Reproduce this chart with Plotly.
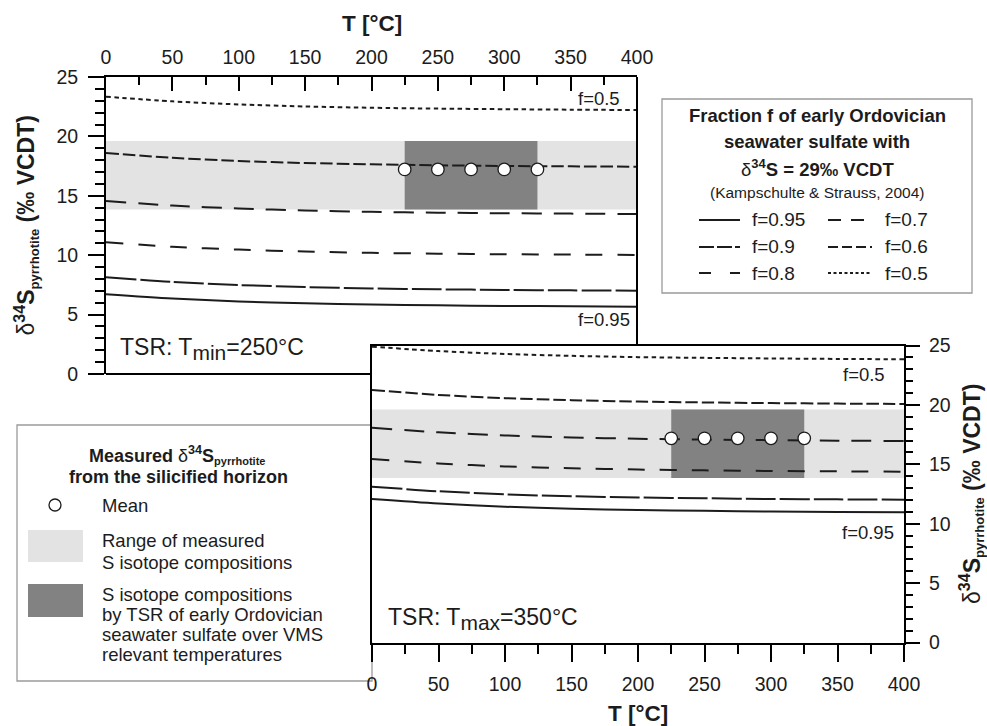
import plotly.graph_objects as go

# ---------------- data ----------------
T = [0, 50, 100, 150, 200, 250, 300, 350, 400]
fractions = ["f=0.95", "f=0.9", "f=0.8", "f=0.7", "f=0.6", "f=0.5"]

# TSR at Tmin = 250 °C  (upper-left panel)
tmin_f095 = [6.71, 6.35, 6.11, 5.95, 5.85, 5.78, 5.73, 5.70, 5.67]
tmin_f090 = [8.14, 7.75, 7.49, 7.32, 7.20, 7.13, 7.08, 7.04, 7.01]
tmin_f080 = [11.08, 10.71, 10.47, 10.31, 10.20, 10.13, 10.08, 10.05, 10.02]
tmin_f070 = [14.56, 14.18, 13.93, 13.76, 13.65, 13.58, 13.53, 13.50, 13.47]
tmin_f060 = [18.60, 18.20, 17.93, 17.76, 17.65, 17.57, 17.51, 17.48, 17.45]
tmin_f050 = [23.34, 22.95, 22.69, 22.52, 22.41, 22.34, 22.29, 22.25, 22.22]

# TSR at Tmax = 350 °C  (lower-right panel)
tmax_f095 = [12.08, 11.70, 11.43, 11.26, 11.15, 11.08, 11.02, 10.99, 10.96]
tmax_f090 = [13.12, 12.73, 12.47, 12.31, 12.21, 12.14, 12.08, 12.05, 12.02]
tmax_f080 = [15.44, 15.07, 14.82, 14.67, 14.56, 14.49, 14.44, 14.41, 14.38]
tmax_f070 = [18.08, 17.69, 17.43, 17.26, 17.15, 17.08, 17.03, 16.99, 16.96]
tmax_f060 = [21.25, 20.84, 20.57, 20.40, 20.28, 20.21, 20.15, 20.11, 20.08]
tmax_f050 = [24.90, 24.53, 24.29, 24.13, 24.02, 23.96, 23.91, 23.87, 23.84]

measured_range = [13.85, 19.62]   # range of measured d34S pyrrhotite
band_T = [0, 400]                 # full temperature span
vms_T = [225, 325]                # VMS relevant temperatures
mean_T = [225, 250, 275, 300, 325]
mean_tmin = [17.22, 17.22, 17.22, 17.22, 17.22]
mean_tmax = [17.19, 17.19, 17.19, 17.19, 17.19]

x_range = [0, 400]
y_range = [0, 25]
x_tick_step, x_minor_step = 50, 25
y_tick_step, y_minor_step = 5, 1

# ---------------- styles ----------------
W, H = 987, 726
FONT = "Liberation Sans, Arial, Helvetica, sans-serif"
INK = "#1c1c1c"
LIGHT = "#e3e3e3"
DARK = "#828282"
dash_of = {"f=0.95": "solid", "f=0.9": "30px,4px", "f=0.8": "17px,15px",
           "f=0.7": "20px,12px", "f=0.6": "12.5px,4px", "f=0.5": "4.5px,3.5px"}
legend_dash = {"f=0.95": "solid", "f=0.9": "15px,3px", "f=0.8": "12px,19px",
               "f=0.7": "13px,10px", "f=0.6": "10px,4px", "f=0.5": "3px,2.5px"}


def PX(x):
    return x / W


def PY(y):
    return 1 - y / H


top_box = (106, 637, 77, 374)      # left, right, top, bottom (px)
bot_box = (372, 904, 345.5, 642.5)

fig = go.Figure()

panels = [
    ("x", "y", [tmin_f095, tmin_f090, tmin_f080, tmin_f070, tmin_f060, tmin_f050], mean_tmin),
    ("x2", "y2", [tmax_f095, tmax_f090, tmax_f080, tmax_f070, tmax_f060, tmax_f050], mean_tmax),
]

for xa, ya, curves, means in panels:
    lo, hi = measured_range
    fig.add_trace(go.Scatter(
        x=[band_T[0], band_T[1], band_T[1], band_T[0], band_T[0]],
        y=[lo, lo, hi, hi, lo], fill="toself", fillcolor=LIGHT,
        mode="lines", line=dict(width=0), hoverinfo="skip", xaxis=xa, yaxis=ya))
    fig.add_trace(go.Scatter(
        x=[vms_T[0], vms_T[1], vms_T[1], vms_T[0], vms_T[0]],
        y=[lo, lo, hi, hi, lo], fill="toself", fillcolor=DARK,
        mode="lines", line=dict(width=0), hoverinfo="skip", xaxis=xa, yaxis=ya))
    for name, vals in zip(fractions, curves):
        fig.add_trace(go.Scatter(
            x=T, y=vals, mode="lines", name=name,
            line=dict(color=INK, width=2, dash=dash_of[name], shape="spline", smoothing=0.8),
            xaxis=xa, yaxis=ya))
    fig.add_trace(go.Scatter(
        x=mean_T, y=means, mode="markers", name="Mean",
        marker=dict(size=12.5, color="white", line=dict(color=INK, width=1.3)),
        xaxis=xa, yaxis=ya))

axis_common = dict(showgrid=False, zeroline=False, showline=True, linewidth=2,
                   linecolor="black", tickcolor="black", tickwidth=2,
                   tickfont=dict(size=19.5, color=INK, family=FONT), automargin=False,
                   fixedrange=True, tickmode="linear", tick0=0)


def minor(step, ticks, length):
    return dict(dtick=step, tick0=0, ticks=ticks, ticklen=length, tickwidth=1.8,
                tickcolor="black", showgrid=False)


fig.update_layout(
    width=W, height=H, margin=dict(l=0, r=0, t=0, b=0),
    paper_bgcolor="white", plot_bgcolor="white", showlegend=False,
    font=dict(family=FONT, color=INK),
    xaxis=dict(domain=[PX(top_box[0]), PX(top_box[1])], anchor="y", side="top",
               range=x_range, dtick=x_tick_step, ticks="inside", ticklen=14,
               minor=minor(x_minor_step, "inside", 8),
               ticklabelstandoff=3, mirror=False, **axis_common),
    yaxis=dict(domain=[PY(top_box[3]), PY(top_box[2])], anchor="x", side="left",
               range=y_range, dtick=y_tick_step, ticks="outside", ticklen=16,
               minor=minor(y_minor_step, "outside", 9),
               ticklabelstandoff=6, mirror=False, **axis_common),
    xaxis2=dict(domain=[PX(bot_box[0]), PX(bot_box[1])], anchor="y2", side="bottom",
                range=x_range, dtick=x_tick_step, ticks="outside", ticklen=17,
                minor=minor(x_minor_step, "outside", 9),
                ticklabelstandoff=6, mirror=True, **axis_common),
    yaxis2=dict(domain=[PY(bot_box[3]), PY(bot_box[2])], anchor="x2", side="right",
                range=y_range, dtick=y_tick_step, ticks="outside", ticklen=14,
                minor=minor(y_minor_step, "outside", 7),
                ticklabelstandoff=5, mirror=True, **axis_common),
)

shapes = []
# frame of the upper panel that is not hidden by the lower panel
shapes.append(dict(type="line", xref="paper", yref="paper",
                   x0=PX(top_box[0]), x1=PX(bot_box[0]), y0=PY(top_box[3]), y1=PY(top_box[3]),
                   line=dict(color="black", width=2)))
shapes.append(dict(type="line", xref="paper", yref="paper",
                   x0=PX(top_box[1]), x1=PX(top_box[1]), y0=PY(top_box[2]), y1=PY(bot_box[2]),
                   line=dict(color="black", width=2)))

# right legend box
shapes.append(dict(type="rect", xref="paper", yref="paper", layer="below",
                   x0=PX(662), x1=PX(972), y0=PY(293), y1=PY(99),
                   line=dict(color="#9a9a9a", width=1.3), fillcolor="white"))
# left legend box
shapes.append(dict(type="rect", xref="paper", yref="paper", layer="below",
                   x0=PX(17), x1=PX(bot_box[0]), y0=PY(681), y1=PY(425),
                   line=dict(color="#9a9a9a", width=1.3), fillcolor="white"))

annotations = []


def ann(x, y, text, size, xanchor="center", xref="paper", yref="paper",
        angle=0, yanchor="middle"):
    if xref == "paper":
        x = PX(x)
    if yref == "paper":
        y = PY(y)
    annotations.append(dict(x=x, y=y, xref=xref, yref=yref, text=text, showarrow=False,
                            xanchor=xanchor, yanchor=yanchor, textangle=angle,
                            font=dict(size=size, color=INK, family=FONT)))


# legend entries (right box)
legend_rows = [("f=0.95", 0, 220), ("f=0.9", 0, 247), ("f=0.8", 0, 273),
               ("f=0.7", 1, 220), ("f=0.6", 1, 247), ("f=0.5", 1, 273)]
col_line = [(699, 740), (828, 872)]
col_text = [750, 883]
for name, col, yy in legend_rows:
    shapes.append(dict(type="line", xref="paper", yref="paper",
                       x0=PX(col_line[col][0]), x1=PX(col_line[col][1]),
                       y0=PY(yy), y1=PY(yy),
                       line=dict(color=INK, width=2, dash=legend_dash[name])))
    ann(col_text[col], yy, name, 19, xanchor="left")

ann(817, 115, "<b>Fraction f of early Ordovician</b>", 18.5)
ann(817, 142, "<b>seawater sulfate with</b>", 18.5)
ann(817, 168, "δ<b><sup>34</sup>S = 29‰ VCDT</b>", 18.5)
ann(817, 193, "(Kampschulte &amp; Strauss, 2004)", 15.5)

# left legend
ann(177, 455, "<b>Measured </b>δ<b><sup>34</sup>S<sub><span style='font-size:11px'>pyrrhotite</span></sub></b>", 18)
ann(178, 477, "<b>from the silicified horizon</b>", 18)
shapes.append(dict(type="circle", xref="paper", yref="paper",
                   x0=PX(49), x1=PX(61), y0=PY(511), y1=PY(499),
                   line=dict(color=INK, width=1.3), fillcolor="white"))
shapes.append(dict(type="rect", xref="paper", yref="paper",
                   x0=PX(28), x1=PX(83), y0=PY(562), y1=PY(530),
                   line=dict(width=0), fillcolor=LIGHT))
shapes.append(dict(type="rect", xref="paper", yref="paper",
                   x0=PX(28), x1=PX(83), y0=PY(617), y1=PY(584),
                   line=dict(width=0), fillcolor=DARK))
for txt, yy in [("Mean", 505), ("Range of measured", 540), ("S isotope compositions", 562),
                ("S isotope compositions", 594), ("by TSR of early Ordovician", 614),
                ("seawater sulfate over VMS", 634), ("relevant temperatures", 654)]:
    ann(100, yy, txt, 18.5, xanchor="left")

# axis titles
ann((top_box[0] + top_box[1]) / 2, 23, "<b>T [°C]</b>", 22.5)
ann((bot_box[0] + bot_box[1]) / 2, 713, "<b>T [°C]</b>", 22.5)
ytitle = "δ<b><sup>34</sup>S<sub><span style='font-size:13px'>pyrrhotite</span></sub> (‰ VCDT)</b>"
ann(26, (top_box[2] + top_box[3]) / 2, ytitle, 23, angle=-90)
ann(971, (bot_box[2] + bot_box[3]) / 2, ytitle, 23, angle=-90)

# in-panel labels
ann(389, 23.2, "f=0.5", 18.5, xanchor="right", xref="x", yref="y")
ann(396, 4.55, "f=0.95", 18.5, xanchor="right", xref="x", yref="y")
ann(387, 22.6, "f=0.5", 18.5, xanchor="right", xref="x2", yref="y2")
ann(394, 9.3, "f=0.95", 18.5, xanchor="right", xref="x2", yref="y2")
ann(9, 2.1, "TSR: T<sub><span style='font-size:21px'>min</span></sub>=250°C", 23,
    xanchor="left", xref="x", yref="y")
ann(10.5, 2.0, "TSR: T<sub><span style='font-size:21px'>max</span></sub>=350°C", 23,
    xanchor="left", xref="x2", yref="y2")

fig.update_layout(shapes=shapes, annotations=annotations)
fig.write_html("out.html")
